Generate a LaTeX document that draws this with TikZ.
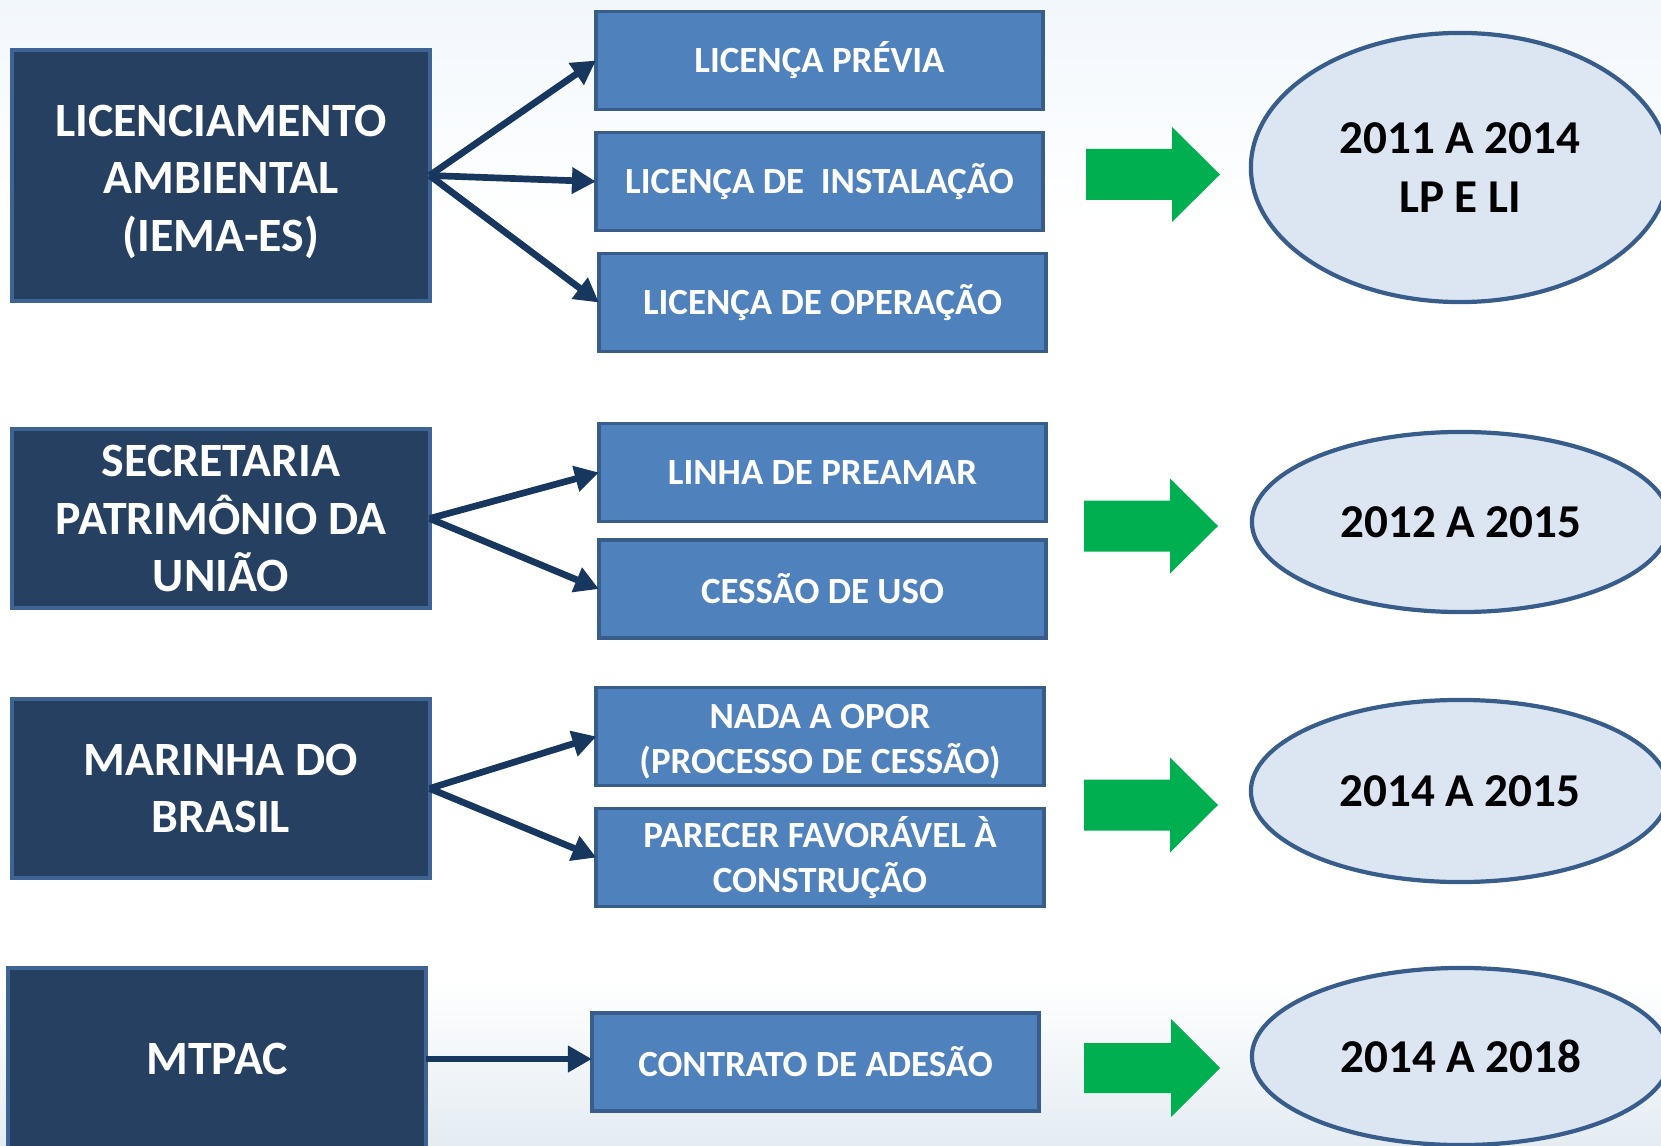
\documentclass[tikz,border=0pt]{standalone}
\usepackage{fontspec}
\setmainfont{Carlito}
\usetikzlibrary{shapes.geometric,arrows.meta}

\definecolor{navyfill}{HTML}{264061}
\definecolor{navyedge}{HTML}{3D6494}
\definecolor{midfill}{HTML}{4F81BD}
\definecolor{midedge}{HTML}{385D8A}
\definecolor{arrowcol}{HTML}{17375E}
\definecolor{goodgreen}{HTML}{00B050}
\definecolor{ovalfill}{HTML}{DCE6F2}
\definecolor{bgtop}{HTML}{F2F7FC}
\definecolor{bgsea}{HTML}{E4ECF2}

\tikzset{
  agency/.style={draw=navyedge, fill=navyfill, line width=1.1pt, outer sep=0pt,
    text=white, align=center, minimum width=4.17cm,
    font=\fontsize{13.6}{16.4}\selectfont\bfseries},
  permit/.style={draw=midedge, fill=midfill, line width=1.1pt, outer sep=0pt,
    inner ysep=1pt, text=white, align=center, minimum width=4.47cm, minimum height=0.98cm,
    font=\fontsize{10.5}{12.7}\selectfont\bfseries},
  period/.style={ellipse, draw=midedge, fill=ovalfill, line width=1.2pt,
    align=center, minimum width=4.18cm,
    font=\fontsize{13.4}{16.9}\selectfont\bfseries},
  link/.style={draw=arrowcol, line width=1.9pt, -{Triangle[length=6.8pt,width=7.2pt]}},
  bigarrow/.style={fill=goodgreen}
}

\begin{document}
\begin{tikzpicture}[x=0.01cm, y=-0.01cm]
  \useasboundingbox (0,0) rectangle (1661,1146);
  \clip (0,0) rectangle (1661,1146);
  % background
  \shade[top color=bgtop, bottom color=white] (0,0) rectangle (1661,220);
  \shade[top color=white, bottom color=bgsea] (0,980) rectangle (1661,1146);

  % agencies
  \node[agency, minimum height=2.51cm] (lic) at (221,175.5)
    {\rule{0pt}{12.5pt}LICENCIAMENTO\\AMBIENTAL\\(IEMA-ES)};
  \node[agency, minimum height=1.79cm] (spu) at (221,518.5)
    {SECRETARIA\\PATRIMÔNIO DA\\UNIÃO};
  \node[agency, minimum height=1.79cm] (mar) at (221,788.5)
    {MARINHA DO\\BRASIL};
  \node[agency, minimum height=1.82cm] (mtpac) at (217,1059) {MTPAC};

  % permits
  \node[permit] (lp) at (819.5,60.5) {LICENÇA PRÉVIA};
  \node[permit] (li) at (819.5,181.5) {LICENÇA DE\ \ INSTALAÇÃO};
  \node[permit] (lo) at (822.5,302.5) {LICENÇA DE OPERAÇÃO};
  \node[permit] (preamar) at (822.5,472.5) {LINHA DE PREAMAR};
  \node[permit] (cessao) at (822.5,589) {CESSÃO DE USO};
  \node[permit] (nada) at (820,736.5) {\rule{0pt}{9.8pt}NADA A OPOR\\(PROCESSO DE CESSÃO)};
  \node[permit] (parecer) at (820,857.5) {PARECER FAVORÁVEL À\\CONSTRUÇÃO};
  \node[permit] (contrato) at (815.5,1062) {CONTRATO DE ADESÃO};

  % periods
  \node[period, minimum height=2.69cm] (p1) at (1460,167.5) {2011 A 2014\\LP E LI};
  \node[period, minimum height=1.80cm] (p2) at (1461,522) {2012 A 2015};
  \node[period, minimum height=1.82cm] (p3) at (1460,791) {2014 A 2015};
  \node[period, minimum height=1.77cm] (p4) at (1461,1056.5) {2014 A 2018};

  % connectors
  \draw[link] (lic.east) -- (lp.west);
  \draw[link] (lic.east) -- (li.west);
  \draw[link] (lic.east) -- (lo.west);
  \draw[link] (spu.east) -- (preamar.west);
  \draw[link] (spu.east) -- (cessao.west);
  \draw[link] (mar.east) -- (nada.west);
  \draw[link] (mar.east) -- (parecer.west);
  \draw[link] (mtpac.east) -- (mtpac.east -| contrato.west);

  % green arrows
  \fill[bigarrow] (1086,149) -- (1172,149) -- (1172,127) -- (1220,174.5)
    -- (1172,222) -- (1172,200) -- (1086,200) -- cycle;
  \fill[bigarrow] (1084,500.5) -- (1170,500.5) -- (1170,478.5) -- (1218,526)
    -- (1170,573.5) -- (1170,551.5) -- (1084,551.5) -- cycle;
  \fill[bigarrow] (1084,779.5) -- (1170,779.5) -- (1170,757.5) -- (1218,805)
    -- (1170,852.5) -- (1170,830.5) -- (1084,830.5) -- cycle;
  \fill[bigarrow] (1084,1043) -- (1171,1043) -- (1171,1019) -- (1220,1068)
    -- (1171,1117) -- (1171,1093) -- (1084,1093) -- cycle;
\end{tikzpicture}
\end{document}
